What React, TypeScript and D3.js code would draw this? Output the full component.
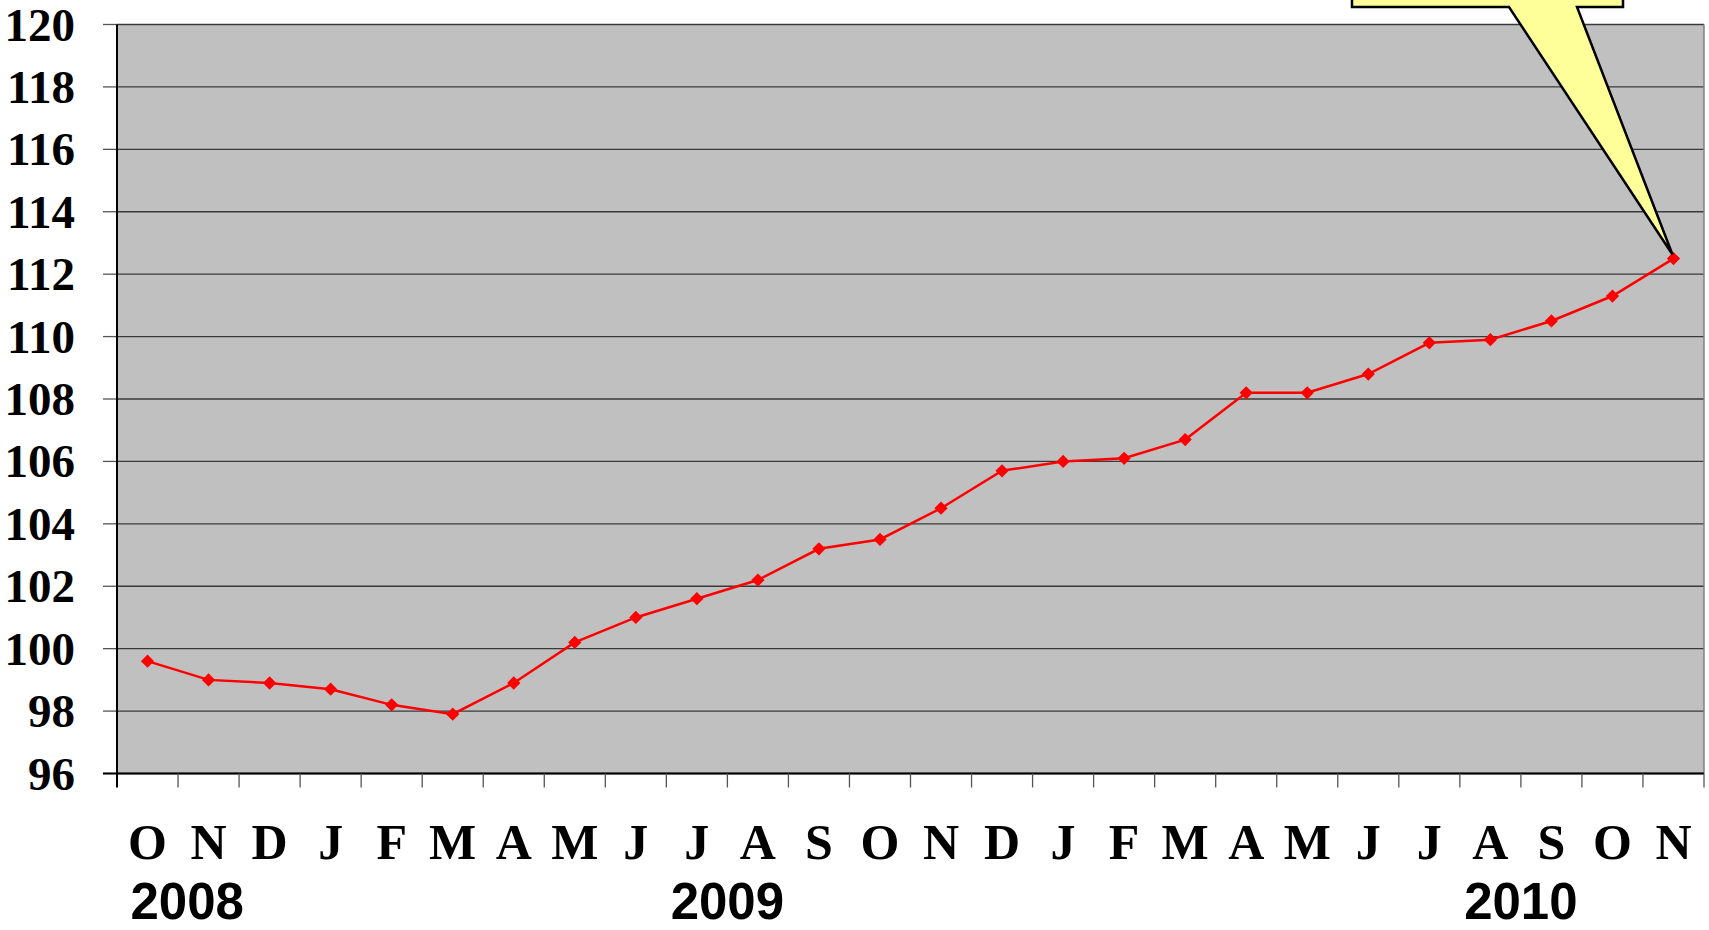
import React from "react";
import * as d3 from "d3";

const months = ["O", "N", "D", "J", "F", "M", "A", "M", "J", "J", "A", "S", "O", "N", "D", "J", "F", "M", "A", "M", "J", "J", "A", "S", "O", "N"];
const values = [99.6, 99.0, 98.9, 98.7, 98.2, 97.9, 98.9, 100.2, 101.0, 101.6, 102.2, 103.2, 103.5, 104.5, 105.7, 106.0, 106.1, 106.7, 108.2, 108.2, 108.8, 109.8, 109.9, 110.5, 111.3, 112.5];
const yTicks = [96, 98, 100, 102, 104, 106, 108, 110, 112, 114, 116, 118, 120];
const years = ["2008", "2009", "2010"];
// band boundary index each year label is centred on
const yearAt = [1.15, 10, 23];

const W = 1709;
const H = 930;
const left = 117;
const right = 1704;
const top = 24.5;
const bottom = 773.5;

const App = () => {
  const idx = months.map((_, i) => i);
  const x = d3.scaleBand<number>().domain(idx).range([left, right]);
  const y = d3.scaleLinear().domain([96, 120]).range([bottom, top]);
  const bw = x.bandwidth();

  const line = d3
    .line<number>()
    .x((_, i) => x(i)! + bw / 2)
    .y((d) => y(d));

  const marker = d3.symbol().type(d3.symbolSquare).size(88)();

  const last = values.length - 1;
  const tipX = x(last)! + bw / 2 - 1;
  const tipY = y(values[last]) - 4;
  const bx0 = 1352, bx1 = 1623, by0 = -60, by1 = 7;
  const callout = `M${bx0},${by0}L${bx0},${by1}L1509,${by1}L${tipX},${tipY}L1577,${by1}L${bx1},${by1}L${bx1},${by0}Z`;

  return (
    <svg width={W} height={H} style={{ position: "absolute", left: 0, top: 0, background: "#fff" }}>
      <rect x={left} y={top} width={right - left} height={bottom - top} fill="#C0C0C0" />
      {yTicks.map((t) => (
        <g key={t}>
          <line x1={left} x2={right} y1={y(t)} y2={y(t)} stroke="#3a3a3a" strokeWidth={1.3} />
          <line x1={103} x2={left} y1={y(t)} y2={y(t)} stroke="#555" strokeWidth={1.3} />
          <text
            x={75}
            y={y(t)}
            textAnchor="end"
            dominantBaseline="central"
            fontFamily="Liberation Serif, Times New Roman, serif"
            fontWeight="bold"
            fontSize={47}
          >
            {t}
          </text>
        </g>
      ))}
      <line x1={right} x2={right} y1={top} y2={bottom} stroke="#808080" strokeWidth={1.5} />
      <line x1={left} x2={left} y1={top} y2={bottom + 14} stroke="#000" strokeWidth={2} />
      <line x1={103} x2={right} y1={bottom} y2={bottom} stroke="#000" strokeWidth={2} />
      {idx.map((i) => (
        <line key={i} x1={x(i)! + bw} x2={x(i)! + bw} y1={bottom} y2={bottom + 14} stroke="#555" strokeWidth={1.3} />
      ))}
      {months.map((m, i) => (
        <text
          key={i}
          x={x(i)! + bw / 2}
          y={859}
          textAnchor="middle"
          fontFamily="Liberation Serif, Times New Roman, serif"
          fontWeight="bold"
          fontSize={50}
        >
          {m}
        </text>
      ))}
      {years.map((yr, i) => (
        <text
          key={yr}
          x={left + bw * yearAt[i]}
          y={919}
          textAnchor="middle"
          fontFamily="Liberation Sans, Arial, sans-serif"
          fontWeight="bold"
          fontSize={51}
        >
          {yr}
        </text>
      ))}
      <path d={line(values) ?? ""} fill="none" stroke="#FF0000" strokeWidth={2.5} />
      {values.map((v, i) => (
        <path
          key={i}
          d={marker ?? ""}
          transform={`translate(${x(i)! + bw / 2},${y(v)}) rotate(45)`}
          fill="#FF0000"
        />
      ))}
      <path d={callout} fill="#FFFF99" stroke="#000" strokeWidth={2.5} strokeLinejoin="miter" />
    </svg>
  );
};

export default App;
